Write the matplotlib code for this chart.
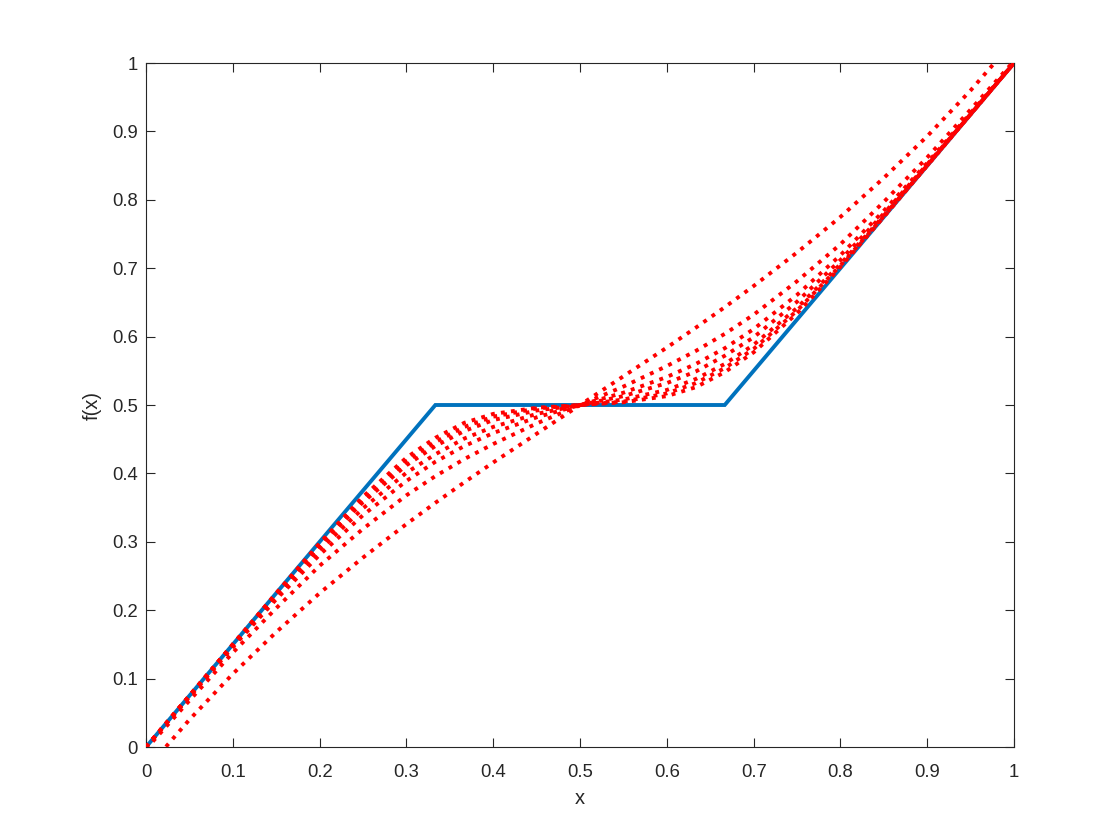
import matplotlib
matplotlib.use("Agg")
import matplotlib.pyplot as plt

# x positions at which the curves were read
x_vals = [0.0, 0.05, 0.1, 0.15, 0.2, 0.25, 0.3, 0.3333, 0.3667, 0.4, 0.45, 0.5,
          0.55, 0.6, 0.6333, 0.6667, 0.7, 0.75, 0.8, 0.85, 0.9, 0.95, 1.0]

# blue piecewise-linear target
target_x = [0.0, 1/3, 2/3, 1.0]
target_y = [0.0, 0.5, 0.5, 1.0]

# red dotted approximations
approx_a = [-0.033, 0.040, 0.107, 0.168, 0.225, 0.277, 0.326, 0.357, 0.387, 0.416, 0.458, 0.5,
            0.542, 0.584, 0.613, 0.643, 0.674, 0.723, 0.775, 0.832, 0.893, 0.960, 1.033]
approx_b = [-0.003, 0.068, 0.138, 0.203, 0.265, 0.319, 0.368, 0.396, 0.421, 0.443, 0.473, 0.5,
            0.527, 0.557, 0.579, 0.604, 0.632, 0.681, 0.735, 0.797, 0.862, 0.932, 1.003]
approx_c = [0.0, 0.073, 0.146, 0.216, 0.281, 0.339, 0.389, 0.417, 0.440, 0.459, 0.482, 0.5,
            0.518, 0.541, 0.560, 0.583, 0.611, 0.661, 0.719, 0.784, 0.854, 0.927, 1.0]
approx_d = [0.0, 0.075, 0.148, 0.220, 0.288, 0.349, 0.401, 0.428, 0.451, 0.468, 0.487, 0.5,
            0.513, 0.532, 0.549, 0.572, 0.599, 0.651, 0.712, 0.780, 0.852, 0.925, 1.0]
approx_e = [0.0, 0.075, 0.150, 0.223, 0.294, 0.358, 0.412, 0.440, 0.462, 0.478, 0.492, 0.5,
            0.508, 0.522, 0.538, 0.560, 0.588, 0.642, 0.706, 0.777, 0.850, 0.925, 1.0]
approx_f = [0.0, 0.075, 0.150, 0.224, 0.296, 0.362, 0.418, 0.446, 0.468, 0.483, 0.495, 0.5,
            0.505, 0.517, 0.532, 0.554, 0.582, 0.638, 0.704, 0.776, 0.850, 0.925, 1.0]
approx_g = [0.0, 0.075, 0.150, 0.225, 0.298, 0.366, 0.423, 0.452, 0.474, 0.487, 0.496, 0.5,
            0.504, 0.513, 0.526, 0.548, 0.577, 0.634, 0.702, 0.775, 0.850, 0.925, 1.0]
approximations = [approx_a, approx_b, approx_c, approx_d, approx_e, approx_f, approx_g]

tick_vals = [0, 0.1, 0.2, 0.3, 0.4, 0.5, 0.6, 0.7, 0.8, 0.9, 1]
tick_labels = ["0", "0.1", "0.2", "0.3", "0.4", "0.5", "0.6", "0.7", "0.8", "0.9", "1"]

plt.rcParams['font.family'] = ['Liberation Sans', 'DejaVu Sans']

fig = plt.figure(figsize=(11.2, 8.4), dpi=100)
ax = fig.add_axes([0.1304, 0.1107, 0.775, 0.8143])

ax.plot(target_x, target_y, color='#0072BD', linewidth=2.8, solid_joinstyle='miter', zorder=2)
for ys in approximations:
    ax.plot(x_vals, ys, color='#FF0000', linewidth=2.8, linestyle=(0, (1, 1.6)), zorder=3)

ax.set_xlim(0, 1)
ax.set_ylim(0, 1)
ax.set_xticks(tick_vals)
ax.set_xticklabels(tick_labels)
ax.set_yticks(tick_vals)
ax.set_yticklabels(tick_labels)
ax.tick_params(direction='in', length=6.3, width=0.8, top=True, right=True,
               labelsize=13.3, colors='#262626')
ax.tick_params(axis='x', pad=12)
ax.tick_params(axis='y', pad=6)
for s in ax.spines.values():
    s.set_linewidth(0.8)
    s.set_color('#262626')
ax.set_xlabel('x', fontsize=14.5, color='#262626', labelpad=6)
ax.set_ylabel('f(x)', fontsize=14.5, color='#262626', labelpad=7)

fig.savefig('out.png', dpi=100)
